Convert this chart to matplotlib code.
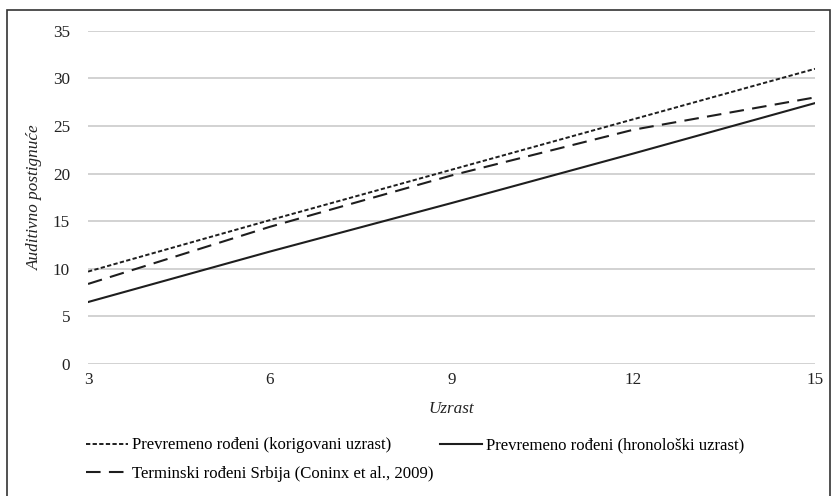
import matplotlib
matplotlib.use("Agg")
import matplotlib.pyplot as plt
from matplotlib.patches import Rectangle

plt.rcParams['font.family'] = ['Liberation Serif', 'DejaVu Serif']

# uzrast (godine)
ages = [3, 6, 9, 12, 15]
korigovani = [9.7, 15.1, 20.4, 25.7, 31.0]
hronoloski = [6.5, 11.8, 16.9, 22.1, 27.4]
terminski = [8.4, 14.4, 19.8, 24.6, 28.0]

labels = ['Prevremeno rođeni (korigovani uzrast)',
          'Prevremeno rođeni (hronološki uzrast)',
          'Terminski rođeni Srbija (Coninx et al., 2009)']
yticks = [0, 5, 10, 15, 20, 25, 30, 35]
xticks = [3, 6, 9, 12, 15]

fig = plt.figure(figsize=(8.32, 4.96), dpi=100)
ax = fig.add_axes([0.1058, 0.2663, 0.8738, 0.6717])

ink = '#1e1e1e'
l1, = ax.plot(ages, korigovani, color=ink, lw=1.4, linestyle=(0, (2.2, 1.2)))
l2, = ax.plot(ages, hronoloski, color=ink, lw=1.5, linestyle='-')
l3, = ax.plot(ages, terminski, color=ink, lw=1.5, linestyle=(0, (7, 4)))

ax.set_xlim(3, 15)
ax.set_ylim(0, 35)
ax.set_xticks(xticks)
ax.set_yticks(yticks)
ax.yaxis.grid(True, color='#c6c6c6', lw=1.1)
ax.set_axisbelow(True)
for s in ax.spines.values():
    s.set_visible(False)
ax.tick_params(length=0, labelsize=12.3, colors='#222222')
ax.tick_params(axis='y', pad=13)
ax.tick_params(axis='x', pad=6)

ax.set_xlabel('Uzrast', fontsize=12.3, style='italic', color='#222222')
ax.set_ylabel('Auditivno postignuće', fontsize=12.3, style='italic', color='#222222')
ax.xaxis.set_label_coords(0.5, -0.11)
ax.yaxis.set_label_coords(-0.062, 0.5)

fig.legend([l1, l3, l2], [labels[0], labels[2], labels[1]], ncol=2,
           loc='upper left', bbox_to_anchor=(0.103, 0.118), frameon=False,
           fontsize=12.1, handlelength=2.5, handletextpad=0.25,
           columnspacing=0.4, labelspacing=0.73, borderaxespad=0, borderpad=0)

fig.patches.append(Rectangle((7 / 832, -0.01), 823 / 832, 1 - 10 / 496 + 0.01,
                             transform=fig.transFigure, fill=False,
                             edgecolor='#333333', lw=1.2))

fig.savefig('out.png', dpi=100)
